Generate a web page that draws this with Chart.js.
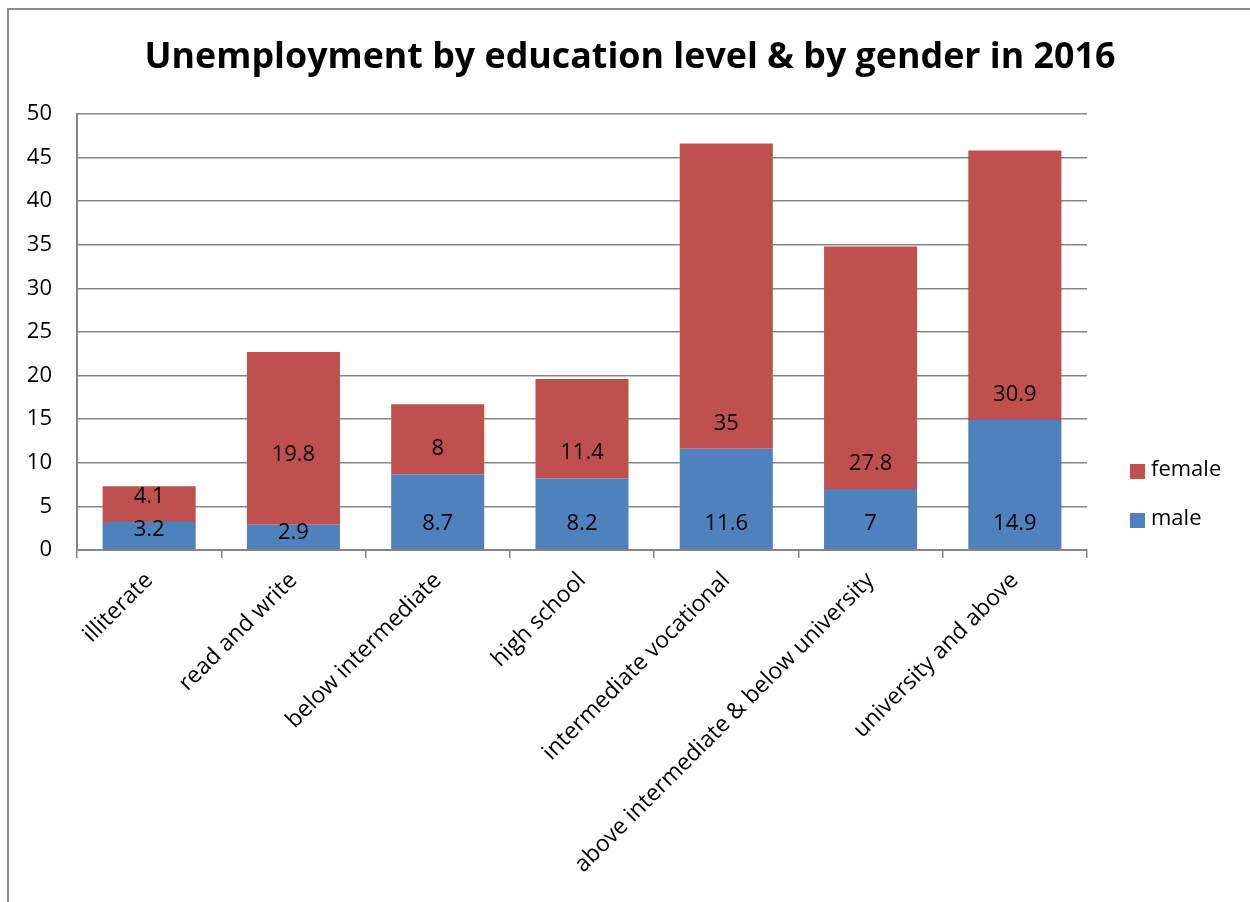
<!DOCTYPE html>
<html>
<head>
<meta charset="utf-8">
<script src="https://cdn.jsdelivr.net/npm/chart.js@4.4.0/dist/chart.umd.min.js"></script>
<style>
    body { margin: 0; background: #fff; overflow: hidden; }
    #wrap { position: relative; width: 1250px; height: 902px; }
    #frame {
        position: absolute; left: 7px; top: 8px; width: 1260px; height: 910px;
        border-left: 2px solid #8e8e8e; border-top: 2px solid #8e8e8e;
    }
    #chart { position: absolute; left: 0; top: 0; }
</style>
</head>
<body>
<div id="wrap">
    <div id="frame"></div>
    <canvas id="chart" width="1250" height="902"></canvas>
</div>
<script>
const levels = ['illiterate', 'read and write', 'below intermediate', 'high school',
    'intermediate vocational', 'above intermediate & below university', 'university and above'];
const maleValues = [3.2, 2.9, 8.7, 8.2, 11.6, 7, 14.9];
const femaleValues = [4.1, 19.8, 8, 11.4, 35, 27.8, 30.9];
const yTicks = [0, 5, 10, 15, 20, 25, 30, 35, 40, 45, 50];

const FONT = '"Open Sans", Lato, sans-serif';
const AXIS_GRAY = '#868686';

// Value labels sit just above the base of each stacked segment;
// 'raised' lifts individual labels (dataset index -> category -> px above base)
const segmentLabels = {
    id: 'segmentLabels',
    afterDatasetsDraw(chart, args, opts) {
        const ctx = chart.ctx;
        ctx.save();
        ctx.font = '22px ' + FONT;
        ctx.fillStyle = '#000';
        ctx.textAlign = 'center';
        ctx.textBaseline = 'middle';
        chart.data.datasets.forEach((ds, i) => {
            const raised = (opts.raised || {})[i] || {};
            chart.getDatasetMeta(i).data.forEach((bar, j) => {
                const lift = raised[chart.data.labels[j]] || opts.lift;
                const y = Math.max(bar.base - lift, bar.y + 8);
                ctx.fillText(String(ds.data[j]), bar.x, y);
            });
        });
        ctx.restore();
    }
};

// Legend on the right, female above male
const sideLegend = {
    id: 'sideLegend',
    afterDraw(chart) {
        const ctx = chart.ctx;
        const items = chart.data.datasets.slice().reverse();
        ctx.save();
        ctx.font = '22px ' + FONT;
        ctx.textBaseline = 'middle';
        ctx.textAlign = 'left';
        items.forEach((ds, k) => {
            const cy = 471 + k * 49;
            ctx.fillStyle = ds.backgroundColor;
            ctx.fillRect(1130, cy - 7, 15, 15);
            ctx.fillStyle = '#000';
            ctx.fillText(ds.label, 1151, cy - 1);
        });
        ctx.restore();
    }
};

new Chart(document.getElementById('chart'), {
    type: 'bar',
    data: {
        labels: levels,
        datasets: [
            { label: 'male', data: maleValues, backgroundColor: '#4F81BD' },
            { label: 'female', data: femaleValues, backgroundColor: '#C0504D' }
        ]
    },
    options: {
        responsive: false,
        animation: false,
        layout: { padding: { left: 10, right: 0, top: 0, bottom: 0 } },
        datasets: {
            bar: { categoryPercentage: 1, barPercentage: 0.645 }
        },
        plugins: {
            legend: { display: false },
            tooltip: { enabled: false },
            title: {
                display: true,
                text: 'Unemployment by education level & by gender in 2016',
                color: '#000',
                font: { family: FONT, size: 35.8, weight: 'bold' },
                padding: { top: 36, bottom: 35 }
            },
            segmentLabels: {
                lift: 25.5,
                raised: { 1: { 'read and write': 70 } }
            }
        },
        scales: {
            x: {
                stacked: true,
                grid: {
                    display: true,
                    drawOnChartArea: false,
                    drawTicks: true,
                    tickLength: 8,
                    color: AXIS_GRAY,
                    lineWidth: 1.5
                },
                border: { color: AXIS_GRAY, width: 2 },
                ticks: {
                    color: '#000',
                    font: { family: FONT, size: 23 },
                    minRotation: 45,
                    maxRotation: 45,
                    padding: 9,
                    autoSkip: false
                },
                afterFit(scale) { scale.height = 352; }
            },
            y: {
                stacked: true,
                min: 0,
                max: 50,
                afterBuildTicks(scale) {
                    scale.ticks = yTicks.map(v => ({ value: v }));
                },
                grid: {
                    color: AXIS_GRAY,
                    lineWidth: 1.5,
                    drawTicks: false
                },
                border: { color: AXIS_GRAY, width: 2 },
                ticks: {
                    color: '#000',
                    font: { family: FONT, size: 22 },
                    padding: 25
                },
                afterFit(scale) { scale.width = 67; }
            },
            // empty strip on the right that holds the legend
            legendSpace: {
                type: 'linear',
                position: 'right',
                grid: { display: false, drawTicks: false },
                border: { display: false },
                ticks: { display: false },
                afterFit(scale) { scale.width = 163; }
            }
        }
    },
    plugins: [segmentLabels, sideLegend]
});
</script>
</body>
</html>
